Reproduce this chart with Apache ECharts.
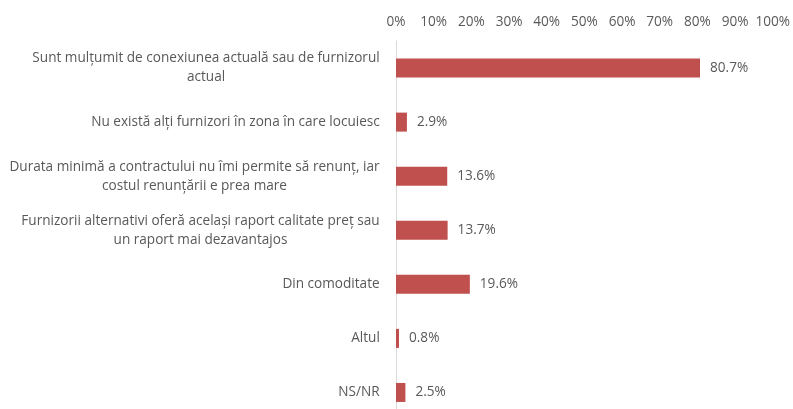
<!DOCTYPE html>
<html>
<head>
<meta charset="utf-8">
<script src="https://cdn.jsdelivr.net/npm/echarts@6/dist/echarts.min.js"></script>
<style>html,body{margin:0;padding:0;background:#fff;overflow:hidden;}#c{width:793px;height:430px;}</style>
</head>
<body>
<div id="c"></div>
<script>
const categories = [
  "Sunt mulțumit de conexiunea actuală sau de furnizorul\nactual",
  "Nu există alți furnizori în zona în care locuiesc",
  "Durata minimă a contractului nu îmi permite să renunț, iar\ncostul renunțării e prea mare",
  "Furnizorii alternativi oferă același raport calitate preț sau\nun raport mai dezavantajos",
  "Din comoditate",
  "Altul",
  "NS/NR"
];
const values = [80.7, 2.9, 13.6, 13.7, 19.6, 0.8, 2.5];
const axisMin = 0, axisMax = 100, axisStep = 10;

const FONT = '"Open Sans", "Liberation Sans", sans-serif';
const FS = 13.6;
const GRAY = '#595959';

const cv = document.createElement('canvas').getContext('2d');
cv.font = FS + 'px ' + FONT;
const rich = {};
categories.forEach((c, i) => {
  const w = Math.max(...c.split('\n').map(l => cv.measureText(l).width));
  rich['l' + i] = { width: Math.ceil(w), align: 'center', fontSize: FS, fontFamily: FONT, color: GRAY, lineHeight: 19 };
});

const chart = echarts.init(document.getElementById('c'), null, { renderer: 'canvas' });
chart.setOption({
  animation: false,
  backgroundColor: '#fff',
  grid: { left: 396, right: 18, top: 41, height: 378.5, containLabel: false },
  xAxis: {
    type: 'value', position: 'top', min: axisMin, max: axisMax, interval: axisStep,
    axisLine: { show: false }, axisTick: { show: false }, splitLine: { show: false },
    axisLabel: { formatter: '{value}%', color: GRAY, fontSize: FS, fontFamily: FONT, margin: 12 }
  },
  yAxis: {
    type: 'category', inverse: true, data: categories,
    axisLine: { show: true, lineStyle: { color: '#D9D9D9', width: 1 } },
    axisTick: { show: false },
    axisLabel: {
      margin: 16, color: GRAY, fontSize: FS, fontFamily: FONT, lineHeight: 19,
      formatter: (v, i) => v.split('\n').map(l => '{l' + i + '|' + l + '}').join('\n'),
      rich: rich
    }
  },
  series: [{
    type: 'bar', data: values, barWidth: 19,
    itemStyle: { color: '#C0504D' },
    label: { show: true, position: 'right', distance: 10, color: GRAY, fontSize: FS, fontFamily: FONT,
      formatter: p => p.value.toFixed(1) + '%' }
  }]
});
</script>
</body>
</html>
